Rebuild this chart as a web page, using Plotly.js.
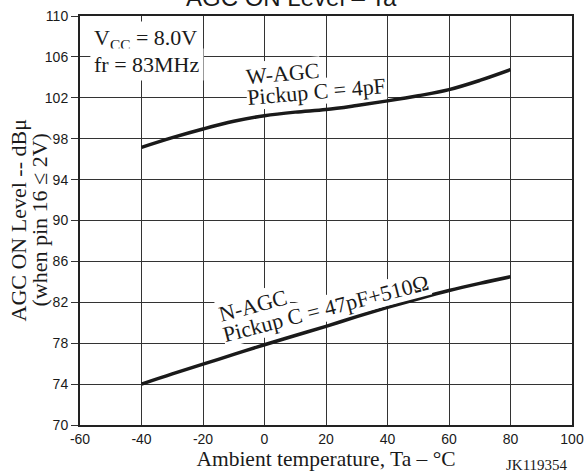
<!DOCTYPE html>
<html>
<head>
<meta charset="utf-8">
<script src="https://cdn.plot.ly/plotly-3.0.1.min.js"></script>
<style>html,body{margin:0;padding:0;background:#fff;}#chart{width:585px;height:475px;}</style>
</head>
<body>
<div id="chart"></div>
<script>
// Data
const temps = [-40, -30, -20, -10, 0, 10, 20, 30, 40, 50, 60, 70, 80];
const wAgc = [97.15, 98.1, 98.95, 99.7, 100.25, 100.6, 100.85, 101.25, 101.7, 102.2, 102.8, 103.7, 104.75];
const nAgc = [74.0, 75.0, 75.95, 76.9, 77.85, 78.75, 79.65, 80.6, 81.5, 82.35, 83.15, 83.85, 84.5];
const xTickVals = [-60, -40, -20, 0, 20, 40, 60, 80, 100];
const xTickText = ['-60', '-40', '-20', '0', '20', '40', '60', '80', '100'];
const yTickVals = [70, 74, 78, 82, 86, 90, 94, 98, 102, 106, 110];
const yTickText = ['70', '74', '78', '82', '86', '90', '94', '98', '102', '106', '110'];

const SANS = 'Liberation Sans, Arial, sans-serif';
const SERIF = 'Liberation Serif, Times New Roman, serif';
const INK = '#1a1a1a';
const GRID = '#333333';

const traces = [
  {x: temps, y: wAgc, mode: 'lines', line: {color: INK, width: 3.5, shape: 'spline'}, name: 'W-AGC', showlegend: false, hoverinfo: 'x+y'},
  {x: temps, y: nAgc, mode: 'lines', line: {color: INK, width: 3.5, shape: 'spline'}, name: 'N-AGC', showlegend: false, hoverinfo: 'x+y'}
];

function label(text, x, y, angle, anchor, size, pad) {
  return {text: text, x: x, y: y, xref: 'x', yref: 'y', showarrow: false,
    textangle: angle, xanchor: anchor || 'center', yanchor: 'middle',
    bgcolor: '#ffffff', borderpad: (pad === undefined ? 2 : pad),
    font: {family: SERIF, size: size || 22, color: INK}};
}

const layout = {
  width: 585, height: 475,
  margin: {l: 80, r: 13, t: 16, b: 50, pad: 0},
  paper_bgcolor: '#ffffff', plot_bgcolor: '#ffffff',
  showlegend: false,
  xaxis: {
    range: [-60, 100], tickmode: 'array', tickvals: xTickVals, ticktext: xTickText,
    ticks: '', showgrid: true, gridcolor: GRID, gridwidth: 1, zeroline: false,
    showline: true, linecolor: '#222', linewidth: 2, mirror: true,
    tickfont: {family: SANS, size: 14, color: INK},
    title: {text: 'Ambient temperature, Ta – °C', font: {family: SERIF, size: 21.5, color: INK}, standoff: 0}
  },
  yaxis: {
    range: [70, 110], tickmode: 'array', tickvals: yTickVals, ticktext: yTickText,
    ticks: 'outside', ticklen: 7, tickcolor: GRID, tickwidth: 1,
    showgrid: true, gridcolor: GRID, gridwidth: 1, zeroline: false,
    showline: true, linecolor: '#222', linewidth: 2, mirror: true,
    tickfont: {family: SANS, size: 14, color: INK}
  },
  annotations: [
    {text: 'AGC ON Level – Ta', xref: 'paper', yref: 'paper', x: 0.4289, y: 1, xanchor: 'center', yanchor: 'bottom', yshift: 3, showarrow: false, font: {family: SANS, size: 24, color: INK}},
    {text: 'AGC ON Level -- dBμ', xref: 'paper', yref: 'paper', x: 0, y: 0.5, xanchor: 'center', yanchor: 'middle', xshift: -62, textangle: -90, showarrow: false, font: {family: SERIF, size: 22, color: INK}},
    {text: '(when pin 16 ≤ 2V)', xref: 'paper', yref: 'paper', x: 0, y: 0.5, xanchor: 'center', yanchor: 'middle', xshift: -41, textangle: -90, showarrow: false, font: {family: SERIF, size: 22, color: INK}},
    {text: 'JK119354', xref: 'paper', yref: 'paper', x: 0.996, y: 0, xanchor: 'right', yanchor: 'top', yshift: -30, showarrow: false, font: {family: SERIF, size: 15, color: INK}},
    label('V<sub>CC</sub> = 8.0V', -56.6, 107.8, 0, 'left', 22, 3),
    label('fr = 83MHz', -56.6, 105.3, 0, 'left', 22, 3),
    label('W-AGC', 6.0, 104.4, -5, 'center', 22, 1),
    label('Pickup C = 4pF', 17.0, 102.6, -5, 'center', 22, 0),
    label('N-AGC', -3.6, 81.7, -15, 'center', 22, 1),
    label('Pickup C = 47pF+510Ω', 19.9, 81.35, -14.5, 'center', 22, 0)
  ]
};

Plotly.newPlot('chart', traces, layout, {displayModeBar: false, staticPlot: true});
</script>
</body>
</html>
